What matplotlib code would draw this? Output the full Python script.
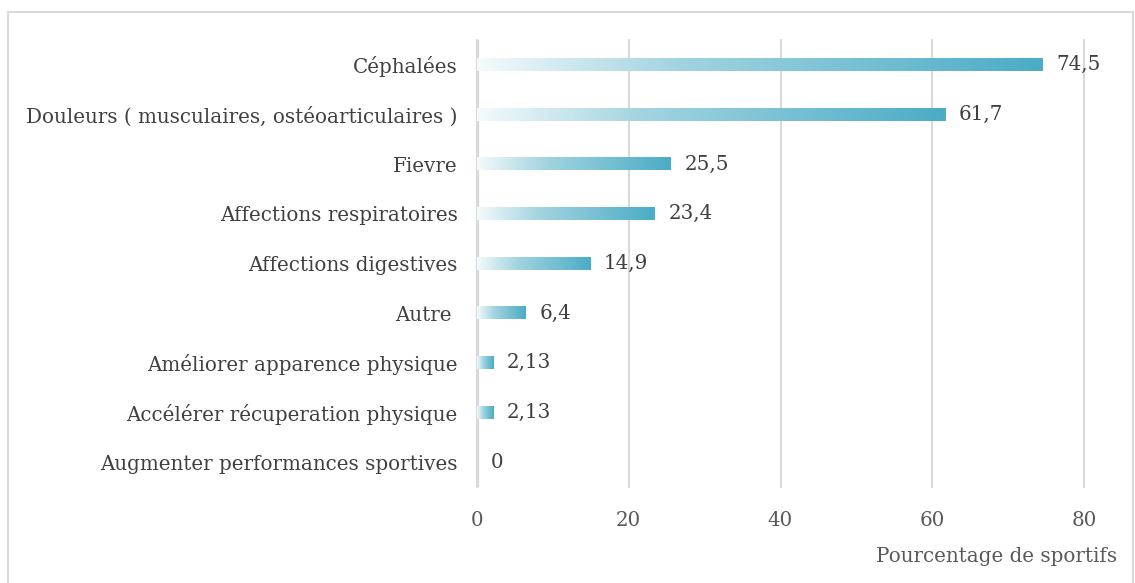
import numpy as np
import matplotlib.pyplot as plt
from matplotlib.colors import LinearSegmentedColormap
from matplotlib.patches import Rectangle

categories = [
    "Céphalées",
    "Douleurs ( musculaires, ostéoarticulaires )",
    "Fievre",
    "Affections respiratoires",
    "Affections digestives",
    "Autre ",
    "Améliorer apparence physique",
    "Accélérer récuperation physique",
    "Augmenter performances sportives",
]
values = [74.5, 61.7, 25.5, 23.4, 14.9, 6.4, 2.13, 2.13, 0]
value_labels = ["74,5", "61,7", "25,5", "23,4", "14,9", "6,4", "2,13", "2,13", "0"]
xticks = [0, 20, 40, 60, 80]

plt.rcParams["font.family"] = ["DejaVu Serif"]
fs = 14.3

fig = plt.figure(figsize=(11.35, 5.83), dpi=100)
ax = fig.add_axes([477 / 1135, 1 - 487 / 583, (1084 - 477) / 1135, (487 - 40) / 583])

# border around the chart
fig.patches.append(Rectangle((8 / 1135, -0.01), (1133 - 8) / 1135, 1 - 12 / 583 + 0.01,
                             transform=fig.transFigure, fill=False,
                             edgecolor="#d9d9d9", linewidth=1.5))

cmap = LinearSegmentedColormap.from_list(
    "bar", [(0, "#f4fafc"), (0.35, "#a3d4e0"), (1, "#4bacc6")])
grad = np.linspace(0, 1, 256).reshape(1, -1)

y = np.arange(len(categories))
h = 0.25
for yi, v, lab in zip(y, values, value_labels):
    if v > 0:
        ax.imshow(grad, cmap=cmap, aspect="auto", extent=(0, v, yi + h / 2, yi - h / 2),
                  interpolation="bicubic", zorder=3)
    ax.annotate(lab, (v, yi), xytext=(10, 0), textcoords="offset points",
                va="center", ha="left", fontsize=fs, color="#404040",
                annotation_clip=False)

ax.set_xlim(0, 80)
ax.set_ylim(len(categories) - 0.5, -0.5)
ax.set_yticks(y)
ax.set_yticklabels(categories, fontsize=fs, color="#404040")
ax.set_xticks(xticks)
ax.set_xticklabels([str(t) for t in xticks], fontsize=fs, color="#595959")
ax.tick_params(axis="y", length=0, pad=14)
ax.tick_params(axis="x", length=0, pad=17)
for s in ax.spines.values():
    s.set_visible(False)
ax.grid(axis="x", color="#d9d9d9", linewidth=1.5, zorder=0)
for gl in ax.get_xgridlines():
    gl.set_clip_on(False)
ax.axvline(0, color="#d9d9d9", linewidth=3, zorder=1)

fig.text(1117 / 1135, 1 - 557 / 583, "Pourcentage de sportifs", ha="right", va="center",
         fontsize=fs, color="#595959")

fig.savefig("out.png", dpi=100)
